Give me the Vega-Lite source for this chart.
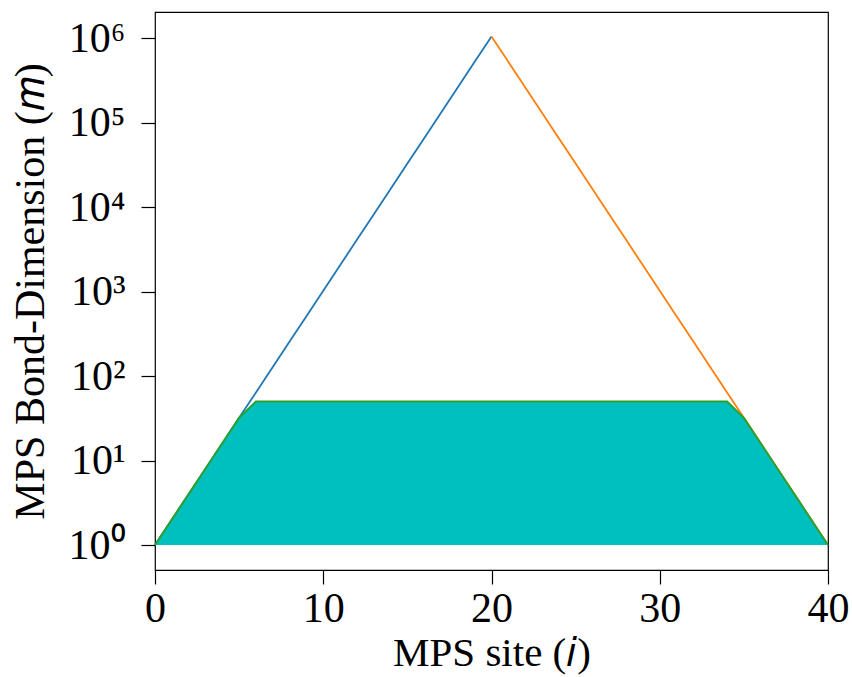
{
  "$schema": "https://vega.github.io/schema/vega-lite/v6.json",
  "width": 673,
  "height": 558,
  "autosize": {"type": "none"},
  "padding": {"left": 155, "top": 12, "right": 24, "bottom": 107},
  "background": "white",
  "config": {
    "view": {"stroke": "black", "strokeWidth": 1.2},
    "font": "Liberation Serif"
  },
  "datasets": {
    "left": [
      {"i": 0, "m": 1}, {"i": 1, "m": 2}, {"i": 2, "m": 4}, {"i": 3, "m": 8}, {"i": 4, "m": 16},
      {"i": 5, "m": 32}, {"i": 6, "m": 64}, {"i": 7, "m": 128}, {"i": 8, "m": 256}, {"i": 9, "m": 512},
      {"i": 10, "m": 1024}, {"i": 11, "m": 2048}, {"i": 12, "m": 4096}, {"i": 13, "m": 8192},
      {"i": 14, "m": 16384}, {"i": 15, "m": 32768}, {"i": 16, "m": 65536}, {"i": 17, "m": 131072},
      {"i": 18, "m": 262144}, {"i": 19, "m": 524288}, {"i": 20, "m": 1048576}
    ],
    "right": [
      {"i": 20, "m": 1048576}, {"i": 21, "m": 524288}, {"i": 22, "m": 262144}, {"i": 23, "m": 131072},
      {"i": 24, "m": 65536}, {"i": 25, "m": 32768}, {"i": 26, "m": 16384}, {"i": 27, "m": 8192},
      {"i": 28, "m": 4096}, {"i": 29, "m": 2048}, {"i": 30, "m": 1024}, {"i": 31, "m": 512},
      {"i": 32, "m": 256}, {"i": 33, "m": 128}, {"i": 34, "m": 64}, {"i": 35, "m": 32},
      {"i": 36, "m": 16}, {"i": 37, "m": 8}, {"i": 38, "m": 4}, {"i": 39, "m": 2}, {"i": 40, "m": 1}
    ],
    "capped": [
      {"i": 0, "m": 1, "base": 1}, {"i": 1, "m": 2, "base": 1}, {"i": 2, "m": 4, "base": 1},
      {"i": 3, "m": 8, "base": 1}, {"i": 4, "m": 16, "base": 1}, {"i": 5, "m": 32, "base": 1},
      {"i": 6, "m": 50, "base": 1}, {"i": 7, "m": 50, "base": 1}, {"i": 8, "m": 50, "base": 1},
      {"i": 9, "m": 50, "base": 1}, {"i": 10, "m": 50, "base": 1}, {"i": 11, "m": 50, "base": 1},
      {"i": 12, "m": 50, "base": 1}, {"i": 13, "m": 50, "base": 1}, {"i": 14, "m": 50, "base": 1},
      {"i": 15, "m": 50, "base": 1}, {"i": 16, "m": 50, "base": 1}, {"i": 17, "m": 50, "base": 1},
      {"i": 18, "m": 50, "base": 1}, {"i": 19, "m": 50, "base": 1}, {"i": 20, "m": 50, "base": 1},
      {"i": 21, "m": 50, "base": 1}, {"i": 22, "m": 50, "base": 1}, {"i": 23, "m": 50, "base": 1},
      {"i": 24, "m": 50, "base": 1}, {"i": 25, "m": 50, "base": 1}, {"i": 26, "m": 50, "base": 1},
      {"i": 27, "m": 50, "base": 1}, {"i": 28, "m": 50, "base": 1}, {"i": 29, "m": 50, "base": 1},
      {"i": 30, "m": 50, "base": 1}, {"i": 31, "m": 50, "base": 1}, {"i": 32, "m": 50, "base": 1},
      {"i": 33, "m": 50, "base": 1}, {"i": 34, "m": 50, "base": 1}, {"i": 35, "m": 32, "base": 1},
      {"i": 36, "m": 16, "base": 1}, {"i": 37, "m": 8, "base": 1}, {"i": 38, "m": 4, "base": 1},
      {"i": 39, "m": 2, "base": 1}, {"i": 40, "m": 1, "base": 1}
    ]
  },
  "encoding": {
    "x": {
      "field": "i", "type": "quantitative",
      "scale": {"domain": [0, 40], "nice": false, "zero": false},
      "axis": {
        "title": "MPS site (𝑖)", "values": [0, 10, 20, 30, 40],
        "grid": false, "domain": false, "tickColor": "black", "tickSize": 14, "tickWidth": 1.2,
        "labelFont": "Liberation Serif", "labelFontSize": 42, "labelColor": "black",
        "labelFlush": false, "labelPadding": 4,
        "titleFont": "Liberation Serif", "titleFontSize": 41, "titleFontWeight": "normal",
        "titleColor": "black", "titlePadding": 4
      }
    },
    "y": {
      "field": "m", "type": "quantitative",
      "scale": {"type": "log", "domain": [0.506, 2040000], "nice": false},
      "axis": {
        "title": "MPS Bond-Dimension (𝑚)",
        "values": [1, 10, 100, 1000, 10000, 100000, 1000000],
        "labelExpr": "'10' + ['⁰','¹','²','³','⁴','⁵','⁶'][round(log(datum.value)/LN10)]",
        "grid": false, "domain": false, "tickColor": "black", "tickSize": 14, "tickWidth": 1.2,
        "labelFont": "Liberation Serif", "labelFontSize": 42, "labelColor": "black",
        "labelPadding": 16,
        "titleFont": "Liberation Serif", "titleFontSize": 42, "titleFontWeight": "normal",
        "titleColor": "black", "titlePadding": 16
      }
    }
  },
  "layer": [
    {
      "data": {"name": "left"},
      "mark": {"type": "line", "color": "#1f77b4", "strokeWidth": 1.8, "clip": true}
    },
    {
      "data": {"name": "right"},
      "mark": {"type": "line", "color": "#ff7f0e", "strokeWidth": 1.8, "clip": true}
    },
    {
      "data": {"name": "capped"},
      "mark": {"type": "area", "color": "#00bfbf", "opacity": 1},
      "encoding": {"y2": {"field": "base"}}
    },
    {
      "data": {"name": "capped"},
      "mark": {"type": "line", "color": "#2ca02c", "strokeWidth": 2}
    }
  ]
}
